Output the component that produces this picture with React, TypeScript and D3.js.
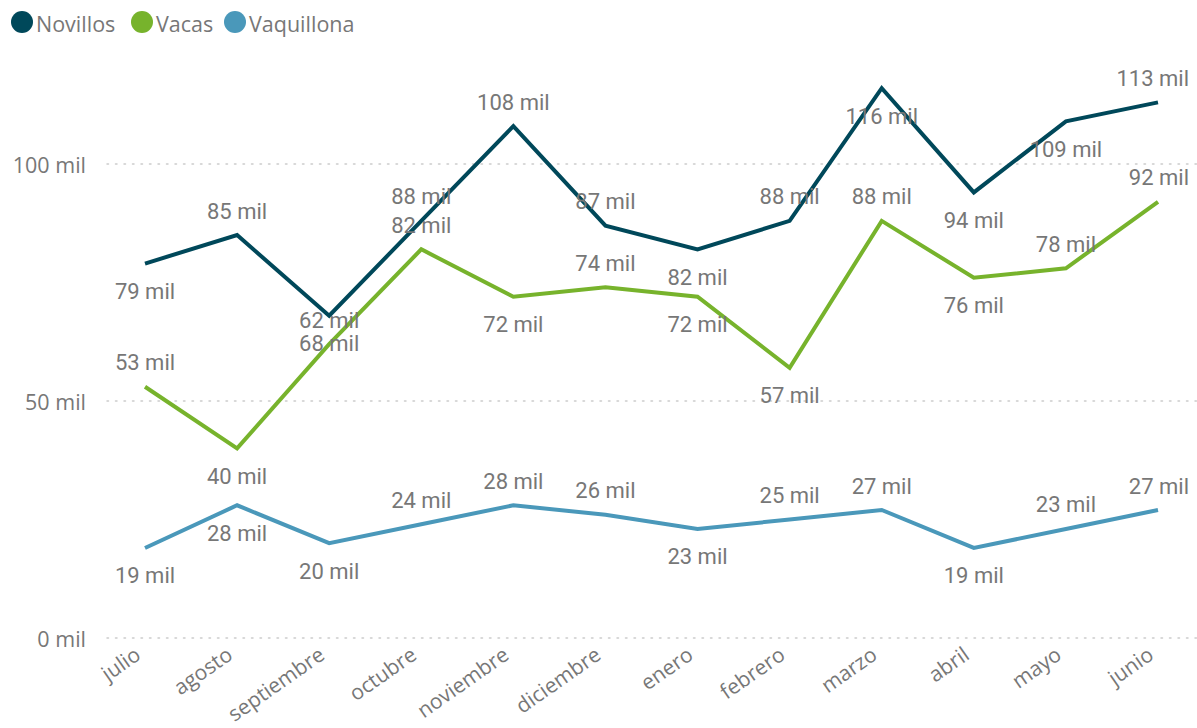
import React from "react";
import * as d3 from "d3";

const months = ["julio","agosto","septiembre","octubre","noviembre","diciembre","enero","febrero","marzo","abril","mayo","junio"];
const novillos = [79, 85, 68, 88, 108, 87, 82, 88, 116, 94, 109, 113];
const vacas = [53, 40, 62, 82, 72, 74, 72, 57, 88, 76, 78, 92];
const vaquillona = [19, 28, 20, 24, 28, 26, 23, 25, 27, 19, 23, 27];
// label placement: 1 = above, -1 = below
const novillosPos = [-1, 1, -1, 1, 1, 1, -1, 1, -1, -1, -1, 1];
const vacasPos = [1, -1, 1, 1, -1, 1, -1, -1, 1, -1, 1, 1];
const vaquillonaPos = [-1, -1, -1, 1, 1, 1, -1, 1, 1, -1, 1, 1];
const yTicks = [0, 50, 100];

const series = [
  { name: "Novillos", values: novillos, pos: novillosPos, color: "#00485A" },
  { name: "Vacas", values: vacas, pos: vacasPos, color: "#77B32C" },
  { name: "Vaquillona", values: vaquillona, pos: vaquillonaPos, color: "#4A98BA" },
];

const W = 1197, H = 728;
const FONT = "'Open Sans', 'Segoe UI', sans-serif";
const LFONT = "Roboto, 'DejaVu Sans Condensed', sans-serif";
const GREY = "#777777";

export default function App() {
  const x = d3.scalePoint<string>().domain(months).range([145, 1158]);
  const y = d3.scaleLinear().domain([0, 100]).range([638, 164]);
  const line = d3.line<number>().x((_, i) => x(months[i])!).y((d) => y(d));

  const legendX = [22, 142, 235];
  return (
    <svg width={W} height={H} style={{ position: "absolute", left: 0, top: 0, background: "#fff" }}>
      {/* legend */}
      {series.map((s, i) => (
        <g key={s.name}>
          <circle cx={legendX[i]} cy={22} r={11} fill={s.color} />
          <text x={legendX[i] + 14} y={23} dominantBaseline="central" fontFamily={FONT} fontSize={21.5} fill={GREY}>{s.name}</text>
        </g>
      ))}
      {/* grid + y labels */}
      {yTicks.map((t) => (
        <g key={t}>
          <line x1={107} x2={1197} y1={y(t)} y2={y(t)} stroke="#cccccc" strokeWidth={1.5} strokeDasharray="1.5 7" strokeLinecap="round" />
          <text x={86} y={y(t)} textAnchor="end" dominantBaseline="central" fontFamily={FONT} fontSize={21.5} fill={GREY}>{`${t} mil`}</text>
        </g>
      ))}
      {/* x labels */}
      {months.map((m) => {
        const px = x(m)! - 3;
        const py = 658;
        return (
          <text key={m} x={px} y={py} textAnchor="end" transform={`rotate(-35 ${px} ${py})`} fontFamily={FONT} fontSize={21} fill={GREY}>{m}</text>
        );
      })}
      {/* lines */}
      {series.map((s) => (
        <path key={s.name} d={line(s.values)!} fill="none" stroke={s.color} strokeWidth={4} strokeLinejoin="miter" />
      ))}
      {/* data labels */}
      {series.map((s) =>
        s.values.map((v, i) => {
          const last = i === months.length - 1;
          const px = last ? 1189 : x(months[i])!;
          const py = y(v) - s.pos[i] * 26 + 2;
          return (
            <text key={s.name + i} x={px} y={py} textAnchor={last ? "end" : "middle"} dominantBaseline="central" fontFamily={LFONT} fontSize={22} fill={GREY}>{`${v} mil`}</text>
          );
        })
      )}
    </svg>
  );
}
